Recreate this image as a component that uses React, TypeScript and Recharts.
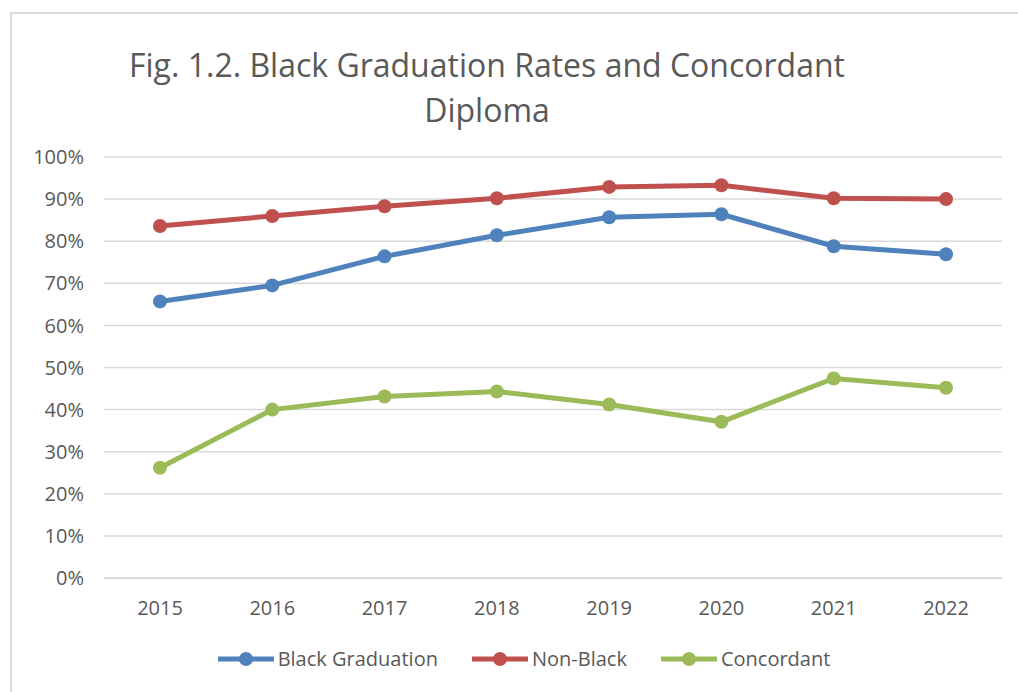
import { LineChart, Line, XAxis, YAxis, CartesianGrid, Legend } from "recharts";

const YEARS = ["2015", "2016", "2017", "2018", "2019", "2020", "2021", "2022"];
const BLACK_GRAD = [0.657, 0.695, 0.764, 0.814, 0.857, 0.864, 0.788, 0.769];
const NON_BLACK = [0.836, 0.86, 0.883, 0.902, 0.929, 0.933, 0.902, 0.9];
const CONCORDANT = [0.262, 0.4, 0.431, 0.443, 0.412, 0.371, 0.474, 0.452];
const Y_TICKS = [0, 0.1, 0.2, 0.3, 0.4, 0.5, 0.6, 0.7, 0.8, 0.9, 1];

const SERIES = [
  { key: "black", name: "Black Graduation", color: "#4F81BD" },
  { key: "nonBlack", name: "Non-Black", color: "#C0504D" },
  { key: "concordant", name: "Concordant", color: "#9BBB59" },
];

const data = YEARS.map((year, i) => ({
  year,
  black: BLACK_GRAD[i],
  nonBlack: NON_BLACK[i],
  concordant: CONCORDANT[i],
}));

const FONT = "'Open Sans', 'Liberation Sans', sans-serif";

function LegendContent() {
  return (
    <div
      style={{
        display: "flex",
        justifyContent: "center",
        gap: 34,
        fontFamily: FONT,
        fontSize: 20,
        color: "#595959",
        paddingLeft: 30,
      }}
    >
      {SERIES.map((s) => (
        <div key={s.key} style={{ display: "flex", alignItems: "center" }}>
          <svg width={56} height={16} style={{ marginRight: 4 }}>
            <line x1={0} y1={8} x2={56} y2={8} stroke={s.color} strokeWidth={5} />
            <circle cx={28} cy={8} r={7} fill={s.color} />
          </svg>
          <span>{s.name}</span>
        </div>
      ))}
    </div>
  );
}

export default function App() {
  return (
    <div
      style={{
        position: "absolute",
        left: 0,
        top: 0,
        width: 1018,
        height: 692,
        background: "#fff",
        overflow: "hidden",
      }}
    >
      <div
        style={{
          position: "absolute",
          left: 10,
          top: 12,
          width: 1030,
          height: 700,
          borderLeft: "2px solid #d9d9d9",
          borderTop: "2px solid #d9d9d9",
        }}
      />
      <div
        style={{
          position: "absolute",
          left: 90,
          top: 42,
          width: 794,
          textAlign: "center",
          fontFamily: FONT,
          fontSize: 32,
          lineHeight: "45px",
          color: "#595959",
        }}
      >
        Fig. 1.2. Black Graduation Rates and Concordant
        <br />
        Diploma
      </div>
      <LineChart
        width={1018}
        height={692}
        data={data}
        margin={{ top: 157, right: 16, bottom: 20, left: 10 }}
      >
        <CartesianGrid vertical={false} stroke="#d9d9d9" strokeWidth={1.5} />
        <XAxis
          dataKey="year"
          padding={{ left: 56, right: 56 }}
          axisLine={{ stroke: "#d9d9d9", strokeWidth: 1.5 }}
          tickLine={false}
          tick={{ fill: "#595959", fontSize: 20, fontFamily: FONT }}
          tickMargin={17}
          height={67}
        />
        <YAxis
          domain={[0, 1]}
          ticks={Y_TICKS}
          tickFormatter={(v) => `${Math.round(v * 100)}%`}
          axisLine={false}
          tickLine={false}
          tick={{ fill: "#595959", fontSize: 20, fontFamily: FONT }}
          tickMargin={14}
          width={94}
        />
        {SERIES.map((s) => (
          <Line
            key={s.key}
            dataKey={s.key}
            name={s.name}
            stroke={s.color}
            strokeWidth={5}
            dot={{ r: 7, fill: s.color, stroke: s.color, strokeWidth: 0 }}
            isAnimationActive={false}
          />
        ))}
        <Legend
          content={<LegendContent />}
          verticalAlign="bottom"
          wrapperStyle={{ top: 645, left: 0, width: 1018 }}
        />
      </LineChart>
    </div>
  );
}
